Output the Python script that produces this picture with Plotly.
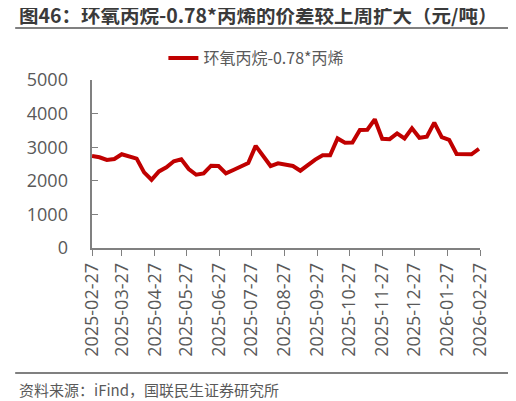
import pandas as pd
import plotly.graph_objects as go

# weekly spread, 2025-02-27 .. 2026-02-26
start_date = "2025-02-27"
spread_values = [
    2740, 2700, 2620, 2650, 2790, 2710, 2660, 2250, 2030, 2280,
    2400, 2580, 2640, 2350, 2180, 2220, 2450, 2440, 2220, 2320,
    2420, 2530, 3040, 2720, 2440, 2520, 2490, 2440, 2300, 2480,
    2630, 2760, 2760, 3260, 3130, 3140, 3510, 3520, 3830, 3250,
    3240, 3410, 3260, 3560, 3280, 3310, 3730, 3300, 3220, 2800,
    2790, 2790, 2950,
]
tick_labels = [
    "2025-02-27", "2025-03-27", "2025-04-27", "2025-05-27", "2025-06-27",
    "2025-07-27", "2025-08-27", "2025-09-27", "2025-10-27", "2025-11-27",
    "2025-12-27", "2026-01-27", "2026-02-27",
]
series_name = "环氧丙烷-0.78*丙烯"
title_text = "图46：环氧丙烷-0.78*丙烯的价差较上周扩大（元/吨）"
source_text = "资料来源：iFind，国联民生证券研究所"

dates = pd.date_range(start_date, periods=len(spread_values), freq="7D")

FONT = "'Open Sans', 'Noto Sans CJK SC', sans-serif"
CJK = "'Noto Sans CJK SC', sans-serif"
GRAY = "#595959"
LINE_GRAY = "#808080"

fig = go.Figure()
fig.add_trace(go.Scatter(x=dates, y=spread_values, mode="lines", name=series_name,
                         line=dict(color="#C00000", width=4)))

# the page keeps its 8px body margin, so the figure is laid out 8px up/left
fig.update_layout(
    width=516, height=401,
    margin=dict(l=84, r=44, t=72, b=161),
    paper_bgcolor="white", plot_bgcolor="white",
    font=dict(family=FONT, size=18, color=GRAY),
    showlegend=True,
    legend=dict(orientation="h", x=0.184, xanchor="left", y=1.131, yanchor="middle",
                font=dict(size=16, color=GRAY, family=CJK)),
    xaxis=dict(range=[tick_labels[0], tick_labels[-1]], tickvals=tick_labels,
               ticktext=tick_labels, tickangle=-90, showgrid=False, zeroline=False,
               showline=True, linecolor=LINE_GRAY, linewidth=1.5,
               ticks="outside", ticklen=6, tickcolor=LINE_GRAY),
    yaxis=dict(range=[0, 5000], dtick=1000, showgrid=False, zeroline=False,
               showline=True, linecolor=LINE_GRAY, linewidth=1.5,
               ticks="inside", ticklen=6, tickcolor=LINE_GRAY,
               ticksuffix="\u00a0" * 4),
)

# title
fig.add_annotation(text="<b>" + title_text + "</b>", xref="paper", yref="paper",
                   x=-0.193, y=1.387, xanchor="left", yanchor="middle", showarrow=False,
                   font=dict(size=19.5, color="#3a3a3a", family=CJK))

# horizontal rules under the title and above the source line
for rule_y in (1.31, -0.744):
    fig.add_shape(type="line", xref="paper", yref="paper",
                  x0=-0.198, x1=1.077, y0=rule_y, y1=rule_y,
                  line=dict(color=LINE_GRAY, width=2))
    # same rule as a plain arrow line, in case the shape is not drawn
    fig.add_annotation(text="\u00a0", xref="paper", yref="paper", x=1.077, y=rule_y,
                       showarrow=True, arrowhead=0, arrowwidth=2, arrowcolor=LINE_GRAY,
                       ax=-495, ay=0, standoff=0, startstandoff=0, font=dict(size=1))

fig.add_annotation(text=source_text, xref="paper", yref="paper",
                   x=-0.193, y=-0.845, xanchor="left", yanchor="middle", showarrow=False,
                   font=dict(size=15, color=GRAY, family=CJK))

fig.write_html("out.html", config={"displayModeBar": False})
